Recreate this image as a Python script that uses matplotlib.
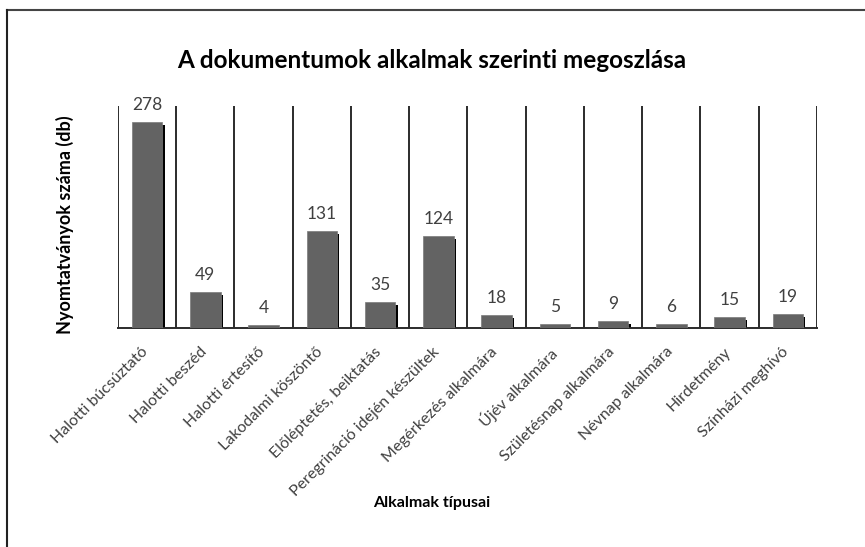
import numpy as np
import matplotlib
matplotlib.use('Agg')
import matplotlib.pyplot as plt
from matplotlib.lines import Line2D
from matplotlib.transforms import ScaledTranslation

plt.rcParams['font.family'] = ['Lato', 'DejaVu Sans']

categories = ['Halotti búcsúztató', 'Halotti beszéd', 'Halotti értesítő',
              'Lakodalmi köszöntő', 'Előléptetés, beiktatás',
              'Peregrináció idején készültek', 'Megérkezés alkalmára',
              'Újév alkalmára', 'Születésnap alkalmára', 'Névnap alkalmára',
              'Hirdetmény', 'Színházi meghívó']
values = [278, 49, 4, 131, 35, 124, 18, 5, 9, 6, 15, 19]

x = np.arange(len(categories))
vals = np.array(values)

fig = plt.figure(figsize=(8.65, 5.47), dpi=100)
ax = fig.add_axes([0.1364, 0.4004, 0.8081, 0.4059])

# shadow first, then the grey bar
ax.bar(x + 0.04, np.maximum(vals - 4, 0), width=0.52, color='black', zorder=2)
ax.bar(x, vals, width=0.52, color='#636363', edgecolor='#7a7a7a', linewidth=0.5, zorder=3)

for xi, v in zip(x, values):
    ax.text(xi, v + 12, str(v), ha='center', va='bottom', fontsize=12.5, color='#404040')

ax.vlines(np.arange(len(categories) + 1) - 0.5, 0, 300, color='#2b2b2b', linewidth=1.4, zorder=1)
ax.set_xlim(-0.5, len(categories) - 0.5)
ax.set_ylim(0, 300)
for s in ['top', 'right', 'left']:
    ax.spines[s].set_visible(False)
ax.spines['bottom'].set_color('#2b2b2b')
ax.spines['bottom'].set_linewidth(1.4)
ax.set_yticks([])
ax.set_xticks(x)
ax.set_xticklabels(categories, rotation=45, ha='right', rotation_mode='anchor',
                   fontsize=11.5, color='#404040')
ax.tick_params(axis='x', length=0, pad=12)
shift = ScaledTranslation(-6 / 100, 0, fig.dpi_scale_trans)
for lab in ax.get_xticklabels():
    lab.set_transform(lab.get_transform() + shift)

fig.text(0.4995, 0.89, 'A dokumentumok alkalmak szerinti megoszlása', ha='center', va='center',
         fontsize=17.5, fontweight='bold', color='black')
fig.text(0.075, 0.589, 'Nyomtatványok száma (db)', ha='center', va='center', rotation=90,
         fontsize=13, fontweight='bold', color='black')
fig.text(0.4995, 0.08, 'Alkalmak típusai', ha='center', va='center',
         fontsize=11.5, fontweight='bold', color='black')

# frame lines of the original picture
fig.add_artist(Line2D([0.008, 1.0], [0.982, 0.982], color='#444444', linewidth=1.5))
fig.add_artist(Line2D([0.008, 0.008], [0.0, 0.982], color='#222222', linewidth=1.5))

fig.savefig('out.png', dpi=100)
